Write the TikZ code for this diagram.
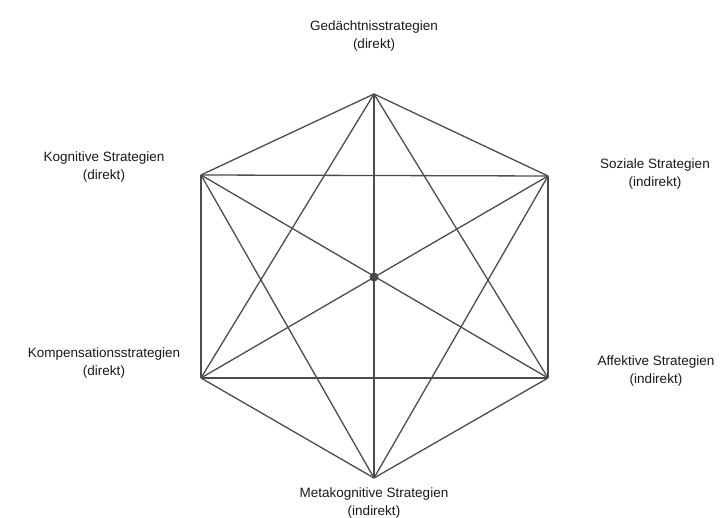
\documentclass[tikz,border=0pt]{standalone}
\usepackage{fontspec}
\setmainfont{Liberation Sans}
\begin{document}
\begin{tikzpicture}[x=1pt,y=-1pt,
  edge/.style={draw=black!70,line width=1.3pt},
  lbl/.style={align=center,font=\fontsize{13.5}{17.5}\selectfont,text=black!90,inner sep=0pt}]
\useasboundingbox (0,0) rectangle (724,518);
% hexagon corners
\coordinate (T)  at (374,94);
\coordinate (UL) at (201,175);
\coordinate (UR) at (548,176);
\coordinate (LL) at (201,378);
\coordinate (LR) at (548,378);
\coordinate (B)  at (374,478);
% every pair of corners joined
\foreach \a/\b in {T/UL,T/UR,T/LL,T/LR,T/B,
                   UL/UR,UL/LL,UL/LR,UL/B,
                   UR/LL,UR/LR,UR/B,
                   LL/LR,LL/B,LR/B}
  \draw[edge] (\a) -- (\b);
\node[circle,fill=black!72,inner sep=0pt,minimum size=9pt] (C) at (374,277) {};
% strategy labels
\node[lbl] (gd) at (374,36)  {Gedächtnisstrategien\\(direkt)};
\node[lbl] (kg) at (104,167) {Kognitive Strategien\\(direkt)};
\node[lbl] (sz) at (655,174) {Soziale Strategien\\(indirekt)};
\node[lbl] (kp) at (104,363) {Kompensationsstrategien\\(direkt)};
\node[lbl] (af) at (656,371) {Affektive Strategien\\(indirekt)};
\node[lbl] (mk) at (374,503) {Metakognitive Strategien\\(indirekt)};
\end{tikzpicture}
\end{document}
